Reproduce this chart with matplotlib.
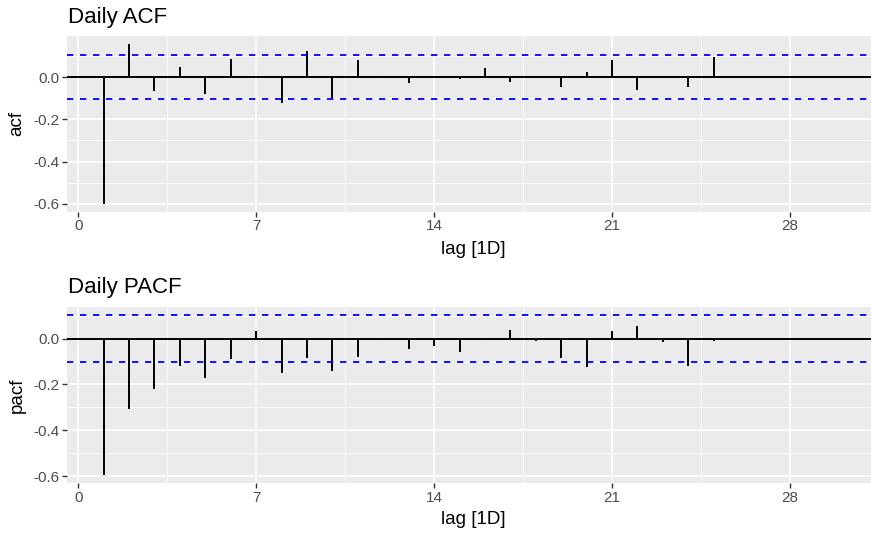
import numpy as np
import matplotlib
matplotlib.use("Agg")
import matplotlib.pyplot as plt

lags = list(range(1, 26))
acf_vals = [-0.600, 0.157, -0.067, 0.048, -0.079, 0.087, 0.003, -0.125, 0.125, -0.097,
            0.081, -0.006, -0.027, 0.006, -0.008, 0.041, -0.022, 0.002, -0.049, 0.022,
            0.079, -0.060, 0.002, -0.049, 0.097]
pacf_vals = [-0.596, -0.308, -0.219, -0.120, -0.174, -0.089, 0.032, -0.152, -0.086, -0.143,
             -0.082, 0.002, -0.045, -0.034, -0.058, 0.002, 0.036, -0.010, -0.085, -0.124,
             0.031, 0.053, -0.015, -0.120, -0.010]
ci = 0.104
titles = ["Daily ACF", "Daily PACF"]
ylabels = ["acf", "pacf"]
xlabel = "lag [1D]"
xticks = [0, 7, 14, 21, 28]
yticks = [-0.6, -0.4, -0.2, 0.0]

plt.rcParams['font.family'] = ['Liberation Sans', 'DejaVu Sans']

W, H = 871, 533
fig = plt.figure(figsize=(W / 100, H / 100), dpi=100)

def px_axes(left, top, right, bottom):
    return fig.add_axes([left / W, 1 - bottom / H, (right - left) / W, (bottom - top) / H])

panels = [(36, 211.7, 250, 23), (306.7, 483.3, 520, 293)]
PL, PR = 66.7, 879
xmin, xmax = 1, 30
xr = xmax - xmin
xlim = (xmin - 0.05 * xr, xmax + 0.05 * xr)

for i, vals in enumerate([acf_vals, pacf_vals]):
    top, bot, xlab_y, title_base = panels[i]
    ax = px_axes(PL, top, PR, bot)
    ax.set_facecolor('#EBEBEB')
    for s in ax.spines.values():
        s.set_visible(False)
    lo = min(min(vals), -ci)
    hi = max(max(vals), ci)
    r = hi - lo
    ax.set_ylim(lo - 0.05 * r, hi + 0.05 * r)
    ax.set_xlim(*xlim)
    ax.set_xticks(xticks)
    ax.set_xticks([3.5, 10.5, 17.5, 24.5, 31.5], minor=True)
    ax.set_yticks(yticks)
    ax.set_yticks([-0.5, -0.3, -0.1, 0.1], minor=True)
    ax.set_yticklabels([f"{t:.1f}" for t in yticks])
    ax.grid(which='major', color='white', linewidth=1.1)
    ax.grid(which='minor', color='white', linewidth=0.55)
    ax.set_axisbelow(True)
    ax.tick_params(which='major', length=3.3, width=1.0, color='#333333',
                   labelcolor='#4D4D4D', labelsize=11, pad=2)
    ax.tick_params(which='minor', length=0)
    ax.vlines(lags, 0, vals, color='black', linewidth=1.4)
    ax.axhline(0, color='black', linewidth=1.4)
    for c in (ci, -ci):
        ax.axhline(c, color='#0000FF', linewidth=1.3, dashes=(3.5, 3.7))
    h = bot - top
    w = PR - PL
    ax.set_xlabel(xlabel, fontsize=13.5)
    ax.xaxis.set_label_coords((473 - PL) / w, -(xlab_y - bot) / h)
    ax.xaxis.label.set_va('center')
    ax.set_ylabel(ylabels[i], fontsize=13.5)
    ax.yaxis.set_label_coords((17 - PL) / w, 0.5)
    ax.yaxis.label.set_va('center')
    ax.text((68 - PL) / w, 1 + (top - title_base) / h, titles[i], transform=ax.transAxes,
            fontsize=16, ha='left', va='baseline')

fig.savefig("out.png", dpi=100)
